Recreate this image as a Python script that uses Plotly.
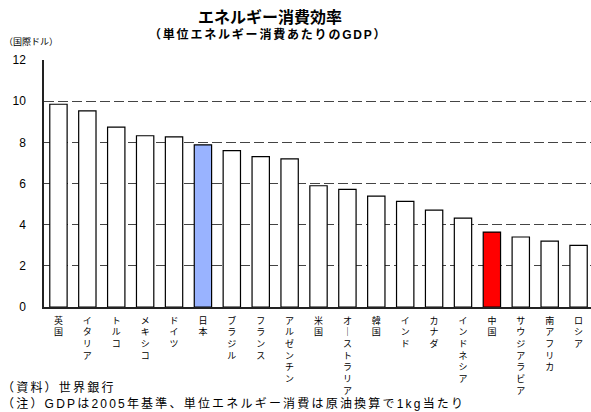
import plotly.graph_objects as go

countries = ["英国", "イタリア", "トルコ", "メキシコ", "ドイツ", "日本", "ブラジル", "フランス",
             "アルゼンチン", "米国", "オーストラリア", "韓国", "インド", "カナダ", "インドネシア",
             "中国", "サウジアラビア", "南アフリカ", "ロシア"]
values = [9.85, 9.53, 8.74, 8.32, 8.27, 7.88, 7.60, 7.31, 7.20, 5.89, 5.71, 5.39, 5.13,
          4.71, 4.32, 3.64, 3.40, 3.20, 2.99]
highlight = {"日本": "#99B3FF", "中国": "#FF0000"}
y_ticks = [0, 2, 4, 6, 8, 10, 12]

FONT = "Liberation Sans, Noto Sans CJK JP"
W, H = 591, 412
ML, MR, MT, MB = 44, 0, 60, 105


def vertical(label):
    return "<br>".join("｜" if ch == "ー" else ch for ch in label)


def spaced(text, px):
    return f"<span style='letter-spacing:{px}px'>{text}</span>"


def px_to_paper_x(px):
    return (px - ML) / (W - ML - MR)


colors = [highlight.get(c, "#FFFFFF") for c in countries]

fig = go.Figure()
fig.add_trace(go.Bar(
    x=countries, y=values,
    marker=dict(color=colors, line=dict(color="#000000", width=1.2)),
    width=0.6,
))

fig.update_layout(
    width=W, height=H,
    margin=dict(l=ML, r=MR, t=MT, b=MB),
    paper_bgcolor="white", plot_bgcolor="white",
    showlegend=False,
    font=dict(family=FONT, color="#000000"),
)

fig.update_xaxes(
    type="category",
    range=[-0.5, 18.43],
    tickmode="array", tickvals=countries, ticktext=[vertical(c) for c in countries],
    tickfont=dict(size=9, family=FONT),
    showline=True, linecolor="#222222", linewidth=1.5,
    ticks="", showgrid=False, ticklabelstandoff=4,
)
fig.update_yaxes(
    range=[0, 12],
    tickmode="array", tickvals=y_ticks, ticktext=[str(v) for v in y_ticks],
    tickfont=dict(size=12, family="Liberation Sans"),
    showline=True, linecolor="#222222", linewidth=1.5,
    showgrid=True, gridcolor="#444444", gridwidth=1, griddash="10px,4px",
    zeroline=False, ticks="", ticklabelstandoff=14,
)

common = dict(xref="paper", yref="paper", showarrow=False, borderpad=0)
fig.add_annotation(text="<b>エネルギー消費効率</b>", x=px_to_paper_x(270), y=1,
                   yshift=MT - 17, xanchor="center", yanchor="middle",
                   font=dict(size=16, family=FONT), **common)
fig.add_annotation(text="<b>" + spaced("（単位エネルギー消費あたりのGDP）", 1.8) + "</b>",
                   x=px_to_paper_x(268), y=1,
                   yshift=MT - 34, xanchor="center", yanchor="middle",
                   font=dict(size=12, family=FONT), **common)
fig.add_annotation(text="（国際ドル）", x=px_to_paper_x(3), y=1,
                   yshift=MT - 42, xanchor="left", yanchor="middle",
                   font=dict(size=9, family=FONT), **common)
fig.add_annotation(text=spaced("（資料）世界銀行", 2.2), x=px_to_paper_x(1), y=0,
                   yshift=-(388 - (H - MB)), xanchor="left", yanchor="middle",
                   font=dict(size=12, family=FONT), **common)
fig.add_annotation(text=spaced("（注）GDPは2005年基準、単位エネルギー消費は原油換算で1kg当たり", 2.2),
                   x=px_to_paper_x(1), y=0,
                   yshift=-(403.5 - (H - MB)), xanchor="left", yanchor="middle",
                   font=dict(size=12, family=FONT), **common)

fig.write_html("out.html")
